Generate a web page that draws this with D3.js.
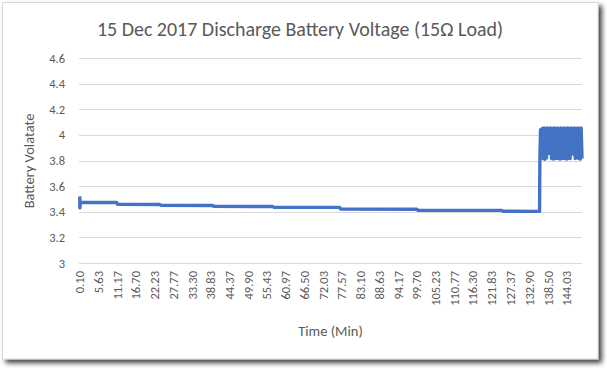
<!DOCTYPE html>
<html>
<head>
<meta charset="utf-8">
<script src="https://cdn.jsdelivr.net/npm/d3@7"></script>
<style>
  html, body { margin: 0; padding: 0; background: #ffffff; }
  svg { display: block; }
</style>
</head>
<body>
<svg id="chart" width="607" height="368"></svg>
<script>
// ---------- DATA ----------
const chartTitle = "15 Dec 2017 Discharge Battery Voltage (15\u03A9 Load)";
const yAxisTitle = "Battery Volatate";
const xAxisTitle = "Time (Min)";

const yTicks = [3, 3.2, 3.4, 3.6, 3.8, 4, 4.2, 4.4, 4.6];
const xTickLabels = ["0.10","5.63","11.17","16.70","22.23","27.77","33.30","38.83",
  "44.37","49.90","55.43","60.97","66.50","72.03","77.57","83.10","88.63","94.17",
  "99.70","105.23","110.77","116.30","121.83","127.37","132.90","138.50","144.03"];

// discharge plateau (minutes, volts)
const dischargeTime = [0.10, 0.12, 0.25, 11.0, 11.3, 23.7, 24.0, 39.4, 39.7, 57.1, 57.4,
  76.9, 77.2, 99.7, 100.0, 124.8, 125.1, 135.95, 136.05];
const dischargeVolt = [3.52, 3.43, 3.474, 3.472, 3.458, 3.457, 3.450, 3.449, 3.442, 3.441, 3.435,
  3.434, 3.421, 3.420, 3.412, 3.411, 3.404, 3.403, 3.80];

// recovered / fluctuating readings after load removal
const recoveryTime = [136.25,136.50,136.75,137.00,137.25,137.50,137.75,138.00,138.25,138.50,
  138.75,139.00,139.25,139.50,139.75,140.00,140.25,140.50,140.75,141.00,
  141.25,141.50,141.75,142.00,142.25,142.50,142.75,143.00,143.25,143.50,
  143.75,144.00,144.25,144.50,144.75,145.00,145.25,145.50,145.75,146.00,
  146.25,146.50,146.75,147.00,147.25,147.50,147.75,148.00,148.25,148.50];
const recoveryVolt = [4.040,3.840,4.050,3.815,4.055,3.810,4.050,3.820,4.055,3.855,
  4.050,3.855,4.055,3.815,4.050,3.812,4.055,3.815,4.050,3.818,
  4.055,3.815,4.048,3.812,4.055,3.815,4.050,3.818,4.055,3.815,
  4.050,3.812,4.055,3.818,4.050,3.815,4.055,3.855,4.050,3.850,
  4.055,3.815,4.050,3.855,4.055,3.815,4.050,3.812,4.055,3.815];

// ---------- LAYOUT ----------
const svg = d3.select("#chart");
const plotLeft = 79, plotRight = 582, plotTop = 58, plotBottom = 263;
const fontFamily = "Carlito, Calibri, Lato, 'Open Sans', sans-serif";
const textColor = "#595959";

const x = d3.scaleLinear().domain([0.10, 148.5]).range([79.8, plotRight]);
const y = d3.scaleLinear().domain([3, 4.6]).range([plotBottom, plotTop]);

// shadow filter
const defs = svg.append("defs");
const f = defs.append("filter").attr("id", "shadow")
  .attr("x", "-5%").attr("y", "-5%").attr("width", "115%").attr("height", "115%");
f.append("feDropShadow").attr("dx", 3.5).attr("dy", 3.5).attr("stdDeviation", 2.6)
  .attr("flood-color", "#000").attr("flood-opacity", 0.75);

// chart box
svg.append("rect")
  .attr("x", 2.5).attr("y", 2.5).attr("width", 595.5).attr("height", 356.5)
  .attr("fill", "#ffffff").attr("stroke", "#d9d9d9").attr("stroke-width", 1)
  .attr("filter", "url(#shadow)");

// gridlines
svg.append("g").selectAll("line").data(yTicks).join("line")
  .attr("x1", plotLeft).attr("x2", plotRight)
  .attr("y1", d => Math.round(y(d)) + 0.5).attr("y2", d => Math.round(y(d)) + 0.5)
  .attr("stroke", "#d9d9d9").attr("stroke-width", 1);

// y axis labels (via d3 axis, then styled)
const yAxis = d3.axisLeft(y).tickValues(yTicks).tickSize(0).tickPadding(0)
  .tickFormat(d3.format("~g"));
const yg = svg.append("g").attr("transform", `translate(${65},0)`).call(yAxis);
yg.select(".domain").remove();
yg.selectAll("text").attr("font-family", fontFamily).attr("font-size", 12.5)
  .attr("fill", textColor).attr("x", 0);

// x axis labels
const xg = svg.append("g");
xg.selectAll("text").data(xTickLabels).join("text")
  .attr("transform", d => `translate(${x(parseFloat(d))},${271}) rotate(-90)`)
  .attr("text-anchor", "end").attr("dy", "0.35em")
  .attr("font-family", fontFamily).attr("font-size", 12.5).attr("fill", textColor)
  .text(d => d);

// line
const series = dischargeTime.map((t, i) => [t, dischargeVolt[i]])
  .concat(recoveryTime.map((t, i) => [t, recoveryVolt[i]]));
svg.append("path").datum(series)
  .attr("d", d3.line().x(d => x(d[0])).y(d => y(d[1])))
  .attr("fill", "none").attr("stroke", "#4472C4").attr("stroke-width", 3.4)
  .attr("stroke-linejoin", "round");

// title
const title = svg.append("text").attr("x", 300).attr("y", 36)
  .attr("text-anchor", "middle").attr("font-family", fontFamily)
  .attr("font-size", 18.7).attr("fill", textColor).text(chartTitle);
const tw = title.node().getComputedTextLength();
title.attr("font-size", 18.7 * 406 / tw);

// axis titles
svg.append("text").attr("transform", `translate(${34},${161}) rotate(-90)`)
  .attr("text-anchor", "middle").attr("font-family", fontFamily)
  .attr("font-size", 14.5).attr("fill", textColor).text(yAxisTitle);
svg.append("text").attr("x", (plotLeft + plotRight) / 2).attr("y", 336)
  .attr("text-anchor", "middle").attr("font-family", fontFamily)
  .attr("font-size", 14.5).attr("fill", textColor).text(xAxisTitle);
</script>
</body>
</html>
